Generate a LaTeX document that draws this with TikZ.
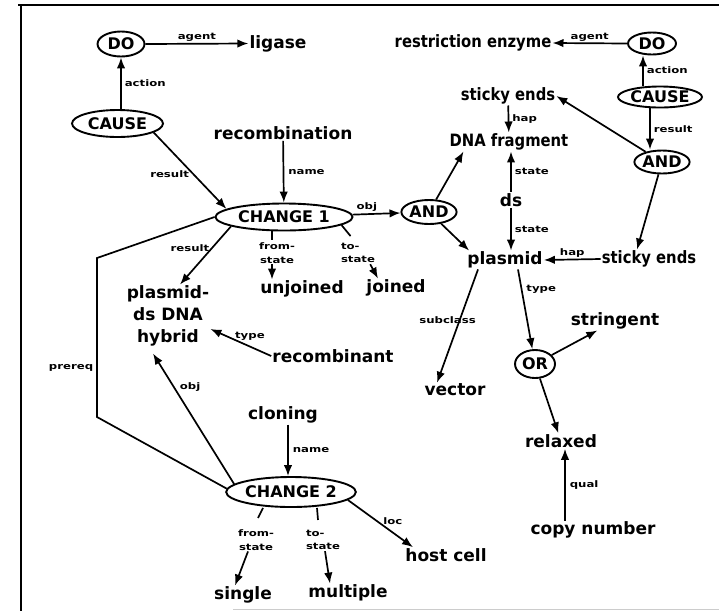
\documentclass[tikz,border=0pt]{standalone}
\usepackage{fontspec}
\setmainfont{DejaVu Sans}
\newfontfamily\labfont{DejaVu Sans}[FakeStretch=1.3]
\newfontfamily\narfont{DejaVu Sans}[FakeStretch=0.87]
\usetikzlibrary{shapes.geometric,arrows.meta}
\begin{document}
\begin{tikzpicture}[x=1pt,y=-1pt,
  txt/.style={font=\fontsize{17}{22}\selectfont\bfseries, inner sep=1pt},
  nar/.style={font=\narfont\fontsize{17}{22}\selectfont\bfseries, inner sep=1pt},
  ell/.style={ellipse, draw, line width=1.9pt, inner sep=0pt, font=\fontsize{16}{18}\selectfont\bfseries},
  lab/.style={font=\labfont\fontsize{9}{13.5}\selectfont\bfseries, inner sep=1pt},
  ln/.style={line width=1.7pt},
  arr/.style={ln, -{Latex[length=11pt,width=8.5pt]}}]
\useasboundingbox (0,0) rectangle (719,611);
% frame
\draw[line width=1.6pt] (18,5) -- (719,5);
\draw[line width=1.6pt] (21,5) -- (21,611);
\draw[line width=0.8pt, black!20] (233,609.5) -- (719,609.5);

% left cluster
\node[ell, minimum width=47, minimum height=25] (do1) at (121,44) {DO};
\node[txt] (lig) at (278,43.5) {ligase};
\node[ell, minimum width=91, minimum height=27] (ca1) at (117.5,123.5) {CAUSE};
\node[txt] (rec) at (283,133) {recombination};
\node[ell, minimum width=137, minimum height=27] (c1) at (284,217) {CHANGE 1};
\node[ell, minimum width=55, minimum height=24] (and1) at (429,212) {AND};
\node[txt, align=center] (hyb) at (168,316) {plasmid-\\ds DNA\\hybrid};
\node[txt] (unj) at (302,289) {unjoined};
\node[txt] (joi) at (396,288) {joined};
\node[txt] (recb) at (333,356) {recombinant};
\node[txt] (clo) at (283,415) {cloning};
\node[ell, minimum width=127, minimum height=30] (c2) at (291,492) {CHANGE 2};
\node[txt] (sin) at (243,595) {single};
\node[txt] (mul) at (348,593) {multiple};
\node[txt] (host) at (446,555) {host cell};

% right cluster
\node[ell, minimum width=48, minimum height=22] (do2) at (652,43.5) {DO};
\node[nar] (re) at (473,43) {restriction enzyme};
\node[ell, minimum width=84, minimum height=21] (ca2) at (660,97) {CAUSE};
\node[ell, minimum width=55, minimum height=23] (and2) at (662,162) {AND};
\node[nar] (se1) at (508,96) {sticky ends};
\node[nar] (dna) at (509,142) {DNA fragment};
\node[txt] (ds) at (511,200) {ds};
\node[txt] (pla) at (505,260) {plasmid};
\node[nar] (se2) at (649,259) {sticky ends};
\node[txt] (vec) at (455,390) {vector};
\node[ell, minimum width=40, minimum height=28] (or) at (535,364) {OR};
\node[txt] (str) at (615,321) {stringent};
\node[txt] (rel) at (561,441) {relaxed};
\node[txt] (cop) at (593,530) {copy number};

% labels that sit on connectors
\node[lab, align=center] (fs1) at (277,253) {from-\\state};
\node[lab, align=left] (ts1) at (358,253) {to-\\state};
\node[lab, align=center] (fs2) at (256,540) {from-\\state};
\node[lab, align=left] (ts2) at (323,540) {to-\\state};

% left connectors
\draw[arr] (do1.east) -- node[lab, above=0pt] {agent} (lig.west);
\draw[arr] ([xshift=3.5pt]ca1.north) -- node[lab, right=2pt] {action} (do1.south);
\draw[arr] (ca1.-14) -- node[lab, pos=0.55, left=3pt] {result} (c1.172);
\draw[arr] (rec) -- node[lab, right=3pt] {name} (c1);
\draw[arr] (c1) -- node[lab, pos=0.3, above=1pt] {obj} (and1);
\draw[arr] (and1) -- ([xshift=15pt]dna.south west);
\draw[arr] (and1) -- ([xshift=3pt]pla.north west);
\draw[arr] (c1.190) -- node[lab, pos=0.37, left=1pt] {result} ([xshift=12pt]hyb.north);
\draw[ln] ([xshift=-12pt]c1.south) -- ++(0,9);
\draw[arr] ([xshift=-5pt]fs1.south) -- ([xshift=-5pt]fs1.south |- unj.north);
\draw[ln] (c1.-8) -- ++(9,11);
\draw[arr] ([xshift=-6pt]ts1.south east) -- ([xshift=-18pt]joi.north);
\draw[arr] (recb.west) -- node[lab, pos=0.35, above=4pt] {type} ([yshift=-13pt]hyb.east);
\coordinate (pq1) at (97,258);
\coordinate (pq2) at (97,417);
\draw[ln] (c1.west) -- (pq1) -- node[lab, pos=0.69, left=2pt] {prereq} (pq2) -- (c2.177);
\draw[arr] (c2.172) -- node[lab, pos=0.74, right=4pt] {obj} ([xshift=-15pt,yshift=-6pt]hyb.south);
\draw[arr] ([xshift=5pt]clo.south) -- node[lab, right=3pt] {name} ([xshift=-3pt]c2.north);
\draw[ln] ([xshift=-28pt]c2.south) -- ++(-5,10);
\draw[arr] ([xshift=-8pt]fs2.south) -- ([xshift=-8pt]sin.north);
\draw[ln] ([xshift=26pt]c2.south) -- ++(1,12);
\draw[arr] ([xshift=2pt]ts2.south) -- ([xshift=-18pt]mul.north);
\draw[arr] (c2.-8) -- node[lab, pos=0.69, above=6pt] {loc} ([xshift=-33pt]host.north);

% right connectors
\draw[arr] (do2.west) -- node[lab, above=0pt] {agent} (re.east);
\draw[arr] ([xshift=-17pt]ca2.north) -- node[lab, right=2pt] {action} ([xshift=-9pt]do2.south);
\draw[arr] ([xshift=-10pt]ca2.south) -- node[lab, right=2pt] {result} ([xshift=-12pt]and2.north);
\draw[arr] (and2) -- (se1.east);
\draw[arr] (and2) -- ([xshift=-12pt]se2.north);
\draw[arr] (se1) -- node[lab, right=2pt] {hap} (dna);
\draw[arr] (ds.north) -- node[lab, right=2pt] {state} (ds.north |- dna.south);
\draw[arr] (ds.south) -- node[lab, right=2pt] {state} (ds.south |- pla.north);
\draw[arr] (se2.west) -- node[lab, above=0pt] {hap} (pla.east);
\draw[arr] ([xshift=-27pt]pla.south) -- node[lab, pos=0.45, xshift=-12pt] {subclass} ([xshift=-18pt]vec.north);
\draw[arr] ([xshift=13pt]pla.south) -- node[lab, pos=0.25, right=3pt] {type} (or);
\draw[arr] (or) -- (str);
\draw[arr] (or) -- (rel);
\draw[arr] ([xshift=-28pt]cop.north) -- node[lab, right=3pt] {qual} ([xshift=4pt]rel.south);
\end{tikzpicture}
\end{document}
